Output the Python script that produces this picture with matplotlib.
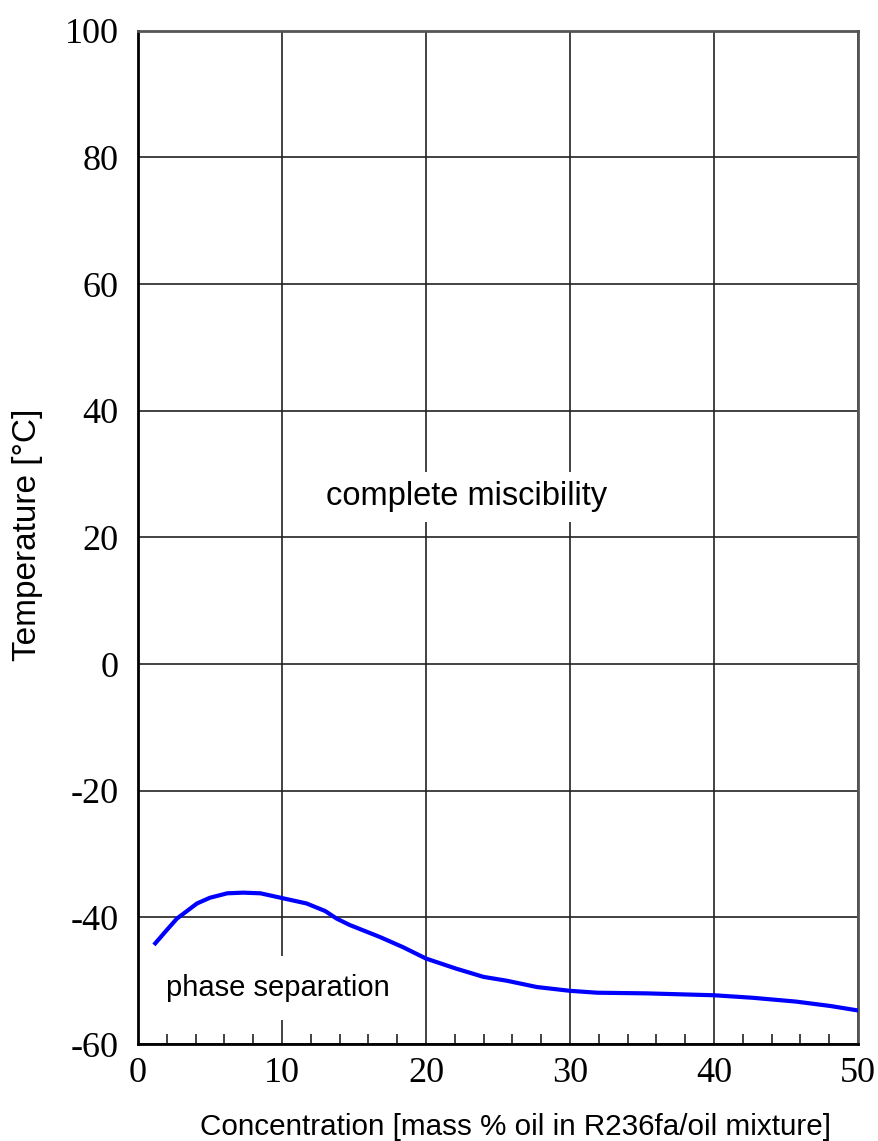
import matplotlib
matplotlib.use("Agg")
import matplotlib.pyplot as plt
from matplotlib.ticker import MultipleLocator

plt.rcParams["axes.unicode_minus"] = False

# miscibility limit of the oil in R236fa
conc = [1.2, 2.0, 2.7, 3.4, 4.1, 5.0, 6.2, 7.3, 8.5, 10.1, 11.7, 13.0, 13.8, 14.7,
        16.8, 18.4, 20.0, 22.1, 24.0, 25.6, 27.7, 30.0, 31.9, 35.3, 40.0, 42.7,
        45.7, 48.1, 50.0]
temp = [-44.1, -42.0, -40.2, -39.0, -37.8, -36.9, -36.2, -36.1, -36.2, -37.0, -37.8,
        -39.0, -40.2, -41.2, -43.1, -44.7, -46.5, -48.1, -49.4, -50.0, -51.0, -51.6,
        -51.9, -52.0, -52.3, -52.7, -53.3, -54.0, -54.7]

x_ticks = [0, 10, 20, 30, 40, 50]
y_ticks = [-60, -40, -20, 0, 20, 40, 60, 80, 100]

fig = plt.figure(figsize=(8.79, 11.41), dpi=100)
ax = fig.add_axes([0.157, 0.085, 0.819, 0.888])

ax.set_xlim(0, 50)
ax.set_ylim(-60, 100)
ax.set_xticks(x_ticks)
ax.set_yticks(y_ticks)
ax.xaxis.set_minor_locator(MultipleLocator(2))
ax.grid(True, which="major", color="#222222", linewidth=1.2)
ax.set_axisbelow(True)

serif = ["Liberation Serif", "DejaVu Serif"]
for lab in ax.get_xticklabels() + ax.get_yticklabels():
    lab.set_fontfamily(serif)
    lab.set_fontsize(26)
ax.tick_params(which="major", length=0)
ax.tick_params(axis="x", which="major", pad=9)
ax.tick_params(axis="y", which="major", pad=14)
ax.tick_params(axis="x", which="minor", direction="in", length=7, width=1.2,
               color="#222222")

for side in ["left", "bottom"]:
    ax.spines[side].set_color("black")
    ax.spines[side].set_linewidth(2)
for side in ["top", "right"]:
    ax.spines[side].set_color("#555555")
    ax.spines[side].set_linewidth(2)

ax.plot(conc, temp, color="#0000ff", linewidth=3, zorder=3)

# region labels sit on white boxes that cut the grid lines
sans = "Liberation Sans"
ax.text(22.85, 26.4, "complete miscibility", fontfamily=sans, fontsize=23.5,
        ha="center", va="center", zorder=1.5,
        bbox=dict(boxstyle="square,pad=0.3", facecolor="white", edgecolor="none"))
ax.text(9.72, -51.2, "phase separation", fontfamily=sans, fontsize=21,
        ha="center", va="center", zorder=1.5,
        bbox=dict(boxstyle="square,pad=0.62", facecolor="white", edgecolor="none"))

fig.text(515 / 879, 1 - 1127 / 1141, "Concentration [mass % oil in R236fa/oil mixture]",
         fontfamily=sans, fontsize=21.3, ha="center", va="center")
fig.text(28 / 879, 1 - 535 / 1141, "Temperature [°C]", fontfamily=sans, fontsize=24,
         ha="center", va="center", rotation=90)

fig.savefig("out.png", dpi=100)
